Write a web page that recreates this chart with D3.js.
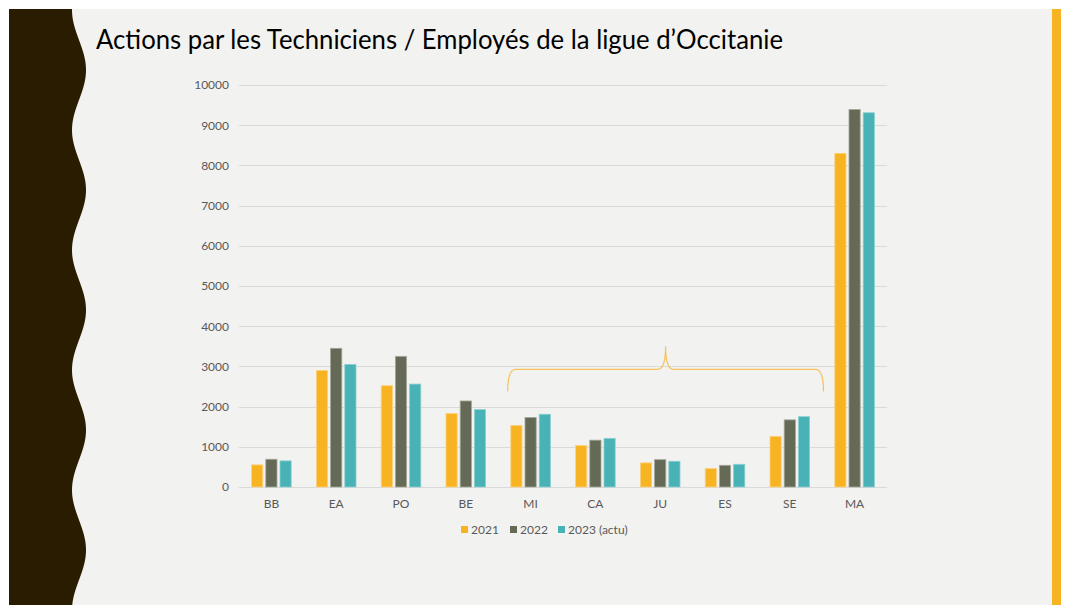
<!DOCTYPE html>
<html>
<head>
<meta charset="utf-8">
<script src="https://cdn.jsdelivr.net/npm/d3@7"></script>
<style>
  html, body { margin: 0; padding: 0; background: #ffffff; }
  svg { display: block; }
  text { font-family: Lato, "Noto Sans", sans-serif; }
</style>
</head>
<body>
<div id="chart"></div>
<script>

// donnees
var categories = ["BB", "EA", "PO", "BE", "MI", "CA", "JU", "ES", "SE", "MA"];
var seriesNames = ["2021", "2022", "2023 (actu)"];
var v2021 = [550, 2900, 2520, 1830, 1530, 1030, 600, 460, 1260, 8300];
var v2022 = [690, 3450, 3250, 2140, 1730, 1165, 680, 540, 1670, 9390];
var v2023 = [650, 3050, 2560, 1925, 1810, 1210, 640, 565, 1750, 9310];
var yTicks = [0, 1000, 2000, 3000, 4000, 5000, 6000, 7000, 8000, 9000, 10000];
var titre = "Actions par les Techniciens / Employés de la ligue d\u2019Occitanie";

var colors = ["#F8B323", "#656A57", "#48B2B6"];
var strokes = ["#FBD37E", "#A4A79A", "#8FD0D2"];

var W = 1066, H = 605;

var svg = d3.select("#chart").append("svg")
  .attr("width", W)
  .attr("height", H);

// fond de la diapo
svg.append("rect")
  .attr("x", 9).attr("y", 9)
  .attr("width", 1052).attr("height", H - 9)
  .attr("fill", "#F2F2F0");

// bande orange a droite
svg.append("rect")
  .attr("x", 1052).attr("y", 9)
  .attr("width", 9).attr("height", H - 9)
  .attr("fill", "#F8B323");

// bord gauche ondule
var wave = d3.range(9, H + 2, 2).map(function (y) {
  return [79 - 7 * Math.cos(2 * Math.PI * (y - 10) / 120), y];
});
var wavePts = [[9, 9]].concat(wave).concat([[9, H + 2]]);
svg.append("path")
  .attr("d", d3.line().curve(d3.curveLinear)(wavePts) + "Z")
  .attr("fill", "#2A1C00");

// titre
svg.append("text")
  .attr("x", 96)
  .attr("y", 49)
  .attr("font-size", 26)
  .attr("fill", "#000")
  .attr("textLength", 687)
  .attr("lengthAdjust", "spacingAndGlyphs")
  .text(titre);

// echelles
var x0 = d3.scaleBand().domain(categories).range([239, 887]).padding(0);
var x1 = d3.scaleBand().domain(seriesNames)
  .range([12.6, x0.bandwidth() - 12.6])
  .paddingInner(0.21).paddingOuter(0);
var y = d3.scaleLinear().domain([0, 10000]).range([487, 85]);

// grille
var grid = svg.append("g");
grid.selectAll("line")
  .data(yTicks)
  .enter().append("line")
  .attr("x1", 239).attr("x2", 887)
  .attr("y1", function (d) { return Math.round(y(d)) + 0.5; })
  .attr("y2", function (d) { return Math.round(y(d)) + 0.5; })
  .attr("stroke", "#DADADA")
  .attr("stroke-width", 1);

// axe y
var yAxis = svg.append("g")
  .attr("transform", "translate(229,0)")
  .call(d3.axisLeft(y).tickValues(yTicks).tickSize(0).tickPadding(0).tickFormat(d3.format("d")));
yAxis.select(".domain").remove();
yAxis.selectAll("text")
  .attr("font-family", "Lato, 'Noto Sans', sans-serif")
  .attr("font-size", 12)
  .attr("fill", "#595959");

// axe x
var xAxis = svg.append("g")
  .attr("transform", "translate(0,487)")
  .call(d3.axisBottom(x0).tickSize(0).tickPadding(12));
xAxis.select(".domain").remove();
xAxis.selectAll("text")
  .attr("font-family", "Lato, 'Noto Sans', sans-serif")
  .attr("font-size", 12)
  .attr("fill", "#595959");

// barres
var allSeries = [v2021, v2022, v2023];
var groups = svg.append("g").selectAll("g")
  .data(categories)
  .enter().append("g")
  .attr("transform", function (d) { return "translate(" + x0(d) + ",0)"; });

groups.selectAll("rect")
  .data(function (d, i) {
    return seriesNames.map(function (s, k) { return { s: s, k: k, v: allSeries[k][i] }; });
  })
  .enter().append("rect")
  .attr("x", function (d) { return x1(d.s); })
  .attr("y", function (d) { return y(d.v); })
  .attr("width", x1.bandwidth())
  .attr("height", function (d) { return y(0) - y(d.v); })
  .attr("fill", function (d) { return colors[d.k]; })
  .attr("stroke", function (d) { return strokes[d.k]; })
  .attr("stroke-width", 0.8);

// accolade au-dessus de MI .. SE
var bx1 = x0("MI") + 9.5, bx2 = x0("SE") + x0.bandwidth() + 1.3;
var bm = (bx1 + bx2) / 2;
var yEnd = y(2375), yMid = y(2925), yTop = y(3500);
var r = 8;
var brace = d3.path();
brace.moveTo(bx1, yEnd);
brace.quadraticCurveTo(bx1, yMid, bx1 + r, yMid);
brace.lineTo(bm - r, yMid);
brace.quadraticCurveTo(bm, yMid, bm, yTop);
brace.quadraticCurveTo(bm, yMid, bm + r, yMid);
brace.lineTo(bx2 - r, yMid);
brace.quadraticCurveTo(bx2, yMid, bx2, yEnd);
svg.append("path")
  .attr("d", brace.toString())
  .attr("fill", "none")
  .attr("stroke", "#F5C25A")
  .attr("stroke-width", 1.2);

// legende
var legX = [461, 510, 558];
var leg = svg.append("g").selectAll("g")
  .data(seriesNames)
  .enter().append("g")
  .attr("transform", function (d, i) { return "translate(" + legX[i] + ",526)"; });
leg.append("rect")
  .attr("width", 7).attr("height", 7)
  .attr("fill", function (d, i) { return colors[i]; });
leg.append("text")
  .attr("x", 10)
  .attr("y", 7.5)
  .attr("font-size", 12)
  .attr("fill", "#595959")
  .text(function (d) { return d; });

</script>
</body>
</html>
